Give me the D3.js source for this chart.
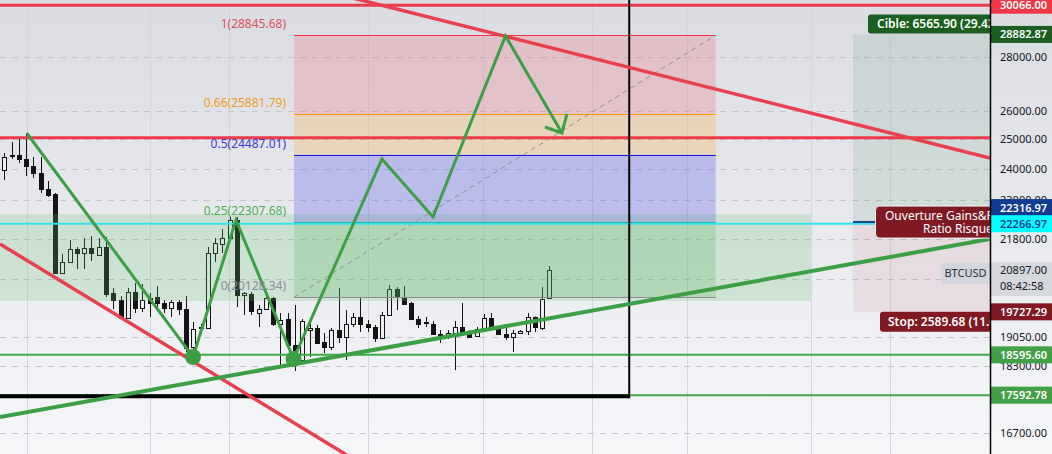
<!DOCTYPE html>
<html><head><meta charset="utf-8">
<script src="https://cdn.jsdelivr.net/npm/d3@7"></script>
<style>html,body{margin:0;padding:0;overflow:hidden;background:#fff}svg{display:block}</style>
</head><body>
<svg id="c" width="1052" height="454"></svg>
<script>
// ---------------- DATA ----------------
const opens  = [23972,24472,24472,24338,24105,23874,23354,23195,20809,21125,21506,21388,21535,21330,21565,20244,20050,19560,20272,19831,20105,20133,19968,19831,19995,19803,18796,19320,19293,21388,21654,21833,22380,20188,20216,19695,19803,20105,19400,19533,18848,18463,19240,19293,18925,18796,19240,19056,19400,19587,19400,19320,19030,19641,20355,20133,19968,19533,19453,19400,19135,19056,19161,19320,19187,19083,19267,19560,19293,19135,19056,19161,19213,19587,19293,20105];
const highs  = [24539,24913,25085,25223,24405,24405,23613,23227,21359,21773,21565,21833,21894,21833,21864,20383,20161,20383,20524,20496,20244,20440,20050,20050,20050,20161,19453,19400,21565,21833,22106,22473,22473,20272,20272,19913,20161,20133,19695,19695,19913,19533,19453,19373,19161,19293,20383,19776,19695,20133,19506,19373,19722,20468,20411,20440,19995,19614,19587,19480,19240,19240,19480,19968,19240,19320,19668,19695,19320,19320,19240,19240,19695,19600,20411,21010];
const lows   = [23645,24338,24204,23776,23710,23227,23099,20780,20780,21096,20923,20923,21154,21300,20133,19803,19540,19540,19695,19722,19587,19858,19695,19587,19641,18667,18642,19260,19267,21125,21388,21800,19858,19641,19641,19320,19790,19347,18261,18770,18186,18387,18540,18880,18642,18718,18899,18463,19320,19187,19187,18925,19000,19620,19776,19913,19506,19293,19320,19109,18899,19004,18211,19140,19040,19070,19250,19300,19120,18977,18667,19150,19109,19187,19240,20090];
const closes = [24405,24438,24338,24105,23874,23354,23163,20809,21125,21506,21388,21535,21388,21565,20216,20050,19560,20272,19831,20050,19968,19968,19831,19995,19803,18770,19267,19293,21388,21684,21833,22380,20188,20244,19749,19803,20105,19400,19506,18848,18514,19480,19293,18899,18796,19240,19056,19400,19587,19400,19320,19030,19641,20355,20133,19941,19533,19400,19420,19135,19056,19161,19320,19161,19056,19267,19560,19320,19135,19056,19161,19213,19587,19320,20077,20897];

const tickValues  = [28000, 26000, 25000, 24000, 23000, 21800, 20650, 19050, 18300, 16700];
const gridBars    = [3.08, 20.05, 30.99, 50.0, 65.9, 80.9, 94.0, 111.0, 121.9];

// fibonacci retracement
const fibLevels   = [1, 0.66, 0.5, 0.25, 0];
const fibPrices   = [28845.68, 25881.79, 24487.01, 22307.68, 20128.34];
const fibBars     = [39.87, 97.9];

// horizontal levels
const redLevels   = [30066.00, 25060];
const cyanLevel   = 22266.97;
const greenLevels = [18595.60, 17592.78];
const blackLevel  = 17592.78;
const vLineBar    = 86.0;

// zones
const zoneBars    = [-1, 111.0];
const zonePrices  = [22563, 20023];

// trend lines  [bar, price]
const redUpperLine = [[46.2, 30499], [135.64, 24371]];
const redLowerLine = [[-0.59, 21654], [48.95, 16025]];
const greenTrend   = [[-0.59, 17071], [135.64, 21803]];
const zigzag       = [[3.08,25223],[25.97,18540],[31.88,22380],[39.8,18488],[51.97,24338],[58.99,22473],[68.97,28820],[76.74,25223]];
const arrowArms    = [[74.4,25431],[77.43,25891]];
const pivotDots    = [[25.97,18540],[39.8,18488]];

// risk / reward
const rrBar      = 116.8;
const rrEntry    = 22316.97;
const rrTarget   = 28882.87;
const rrStop     = 19727.29;
const lastPrice  = 20897.00;
const symbol     = "BTCUSD";
const countdown  = "08:42:58";

const axisPrices = [30066.00, 28882.87, 22316.97, 22266.97, 19727.29, 18595.60, 17592.78];

// ---------------- DRAW ----------------
const W = 1052, H = 454, PW = 990;
const svg = d3.select("#c");
const FONT = "'Noto Sans', 'Open Sans', sans-serif";
const x = d3.scaleLinear().domain([0, 75]).range([4.3, 549.3]);
const y = d3.scaleLog().domain([30282, 16226]).range([0, H]);
const f2 = d3.format(".2f");

const defs = svg.append("defs");
const g0 = defs.append("linearGradient").attr("id","bg").attr("x1",0).attr("y1",0).attr("x2",0).attr("y2",1);
g0.append("stop").attr("offset","0%").attr("stop-color","#dadce2");
g0.append("stop").attr("offset","100%").attr("stop-color","#f6f7f9");
defs.append("clipPath").attr("id","plot").append("rect").attr("x",0).attr("y",0).attr("width",PW).attr("height",H);

svg.append("rect").attr("width",W).attr("height",H).attr("fill","url(#bg)");

const plot = svg.append("g").attr("clip-path","url(#plot)");

// grid
plot.selectAll(".vg").data(gridBars).join("line")
  .attr("x1",d=>Math.round(x(d))+0.5).attr("x2",d=>Math.round(x(d))+0.5)
  .attr("y1",0).attr("y2",H).attr("stroke","#d3d6dc").attr("stroke-width",1);
plot.selectAll(".hg").data(tickValues).join("line")
  .attr("x1",0).attr("x2",PW)
  .attr("y1",d=>Math.round(y(d))+0.5).attr("y2",d=>Math.round(y(d))+0.5)
  .attr("stroke","#c4c7ce").attr("stroke-width",1).attr("stroke-dasharray","6,6");

// candles
const idx = d3.range(opens.length);
const cg = plot.append("g");
cg.selectAll(".wick").data(idx).join("line")
  .attr("x1",i=>Math.round(x(i))+0.5).attr("x2",i=>Math.round(x(i))+0.5)
  .attr("y1",i=>y(highs[i])).attr("y2",i=>y(lows[i]))
  .attr("stroke","#131313").attr("stroke-width",1);
cg.selectAll(".body").data(idx).join("rect")
  .attr("x",i=>Math.round(x(i))-1.5).attr("width",4)
  .attr("y",i=>Math.round(y(Math.max(opens[i],closes[i])))+0.5)
  .attr("height",i=>Math.max(1, Math.round(y(Math.min(opens[i],closes[i]))-y(Math.max(opens[i],closes[i])))))
  .attr("fill",i=>closes[i]>=opens[i]?"#eeeeee":"#131313")
  .attr("stroke","#131313").attr("stroke-width",1);

// green zone rectangle
plot.append("rect").attr("x",x(zoneBars[0])).attr("width",x(zoneBars[1])-x(zoneBars[0]))
  .attr("y",y(zonePrices[0])).attr("height",y(zonePrices[1])-y(zonePrices[0]))
  .attr("fill","rgba(100,190,110,0.22)");

// fib fills
const fibFill = ["rgba(242,54,69,0.18)","rgba(255,152,0,0.2)","rgba(60,60,230,0.25)","rgba(76,175,80,0.22)"];
const fibLine = ["#f23645","#ff9800","#1a1ad0","#10a890","#8a8d96"];
const fibText = ["#e0505c","#f29a1c","#3a3ad8","#4caf50","#8a8d96"];
const fx0 = x(fibBars[0]), fx1 = x(fibBars[1]);
plot.selectAll(".ff").data(d3.range(4)).join("rect")
  .attr("x",fx0).attr("width",fx1-fx0)
  .attr("y",i=>y(fibPrices[i])).attr("height",i=>y(fibPrices[i+1])-y(fibPrices[i]))
  .attr("fill",i=>fibFill[i]);
plot.selectAll(".fl").data(d3.range(5)).join("line")
  .attr("x1",fx0).attr("x2",fx1)
  .attr("y1",i=>Math.round(y(fibPrices[i]))+0.5).attr("y2",i=>Math.round(y(fibPrices[i]))+0.5)
  .attr("stroke",i=>fibLine[i]).attr("stroke-width",1);
plot.append("line").attr("x1",fx0).attr("y1",y(fibPrices[4])).attr("x2",fx1).attr("y2",y(fibPrices[0]))
  .attr("stroke","#8f929b").attr("stroke-width",1).attr("stroke-dasharray","5,4");

// risk/reward boxes
plot.append("rect").attr("x",x(rrBar)).attr("width",PW-x(rrBar))
  .attr("y",y(rrTarget)).attr("height",y(rrEntry)-y(rrTarget)).attr("fill","rgba(76,140,100,0.13)");
plot.append("rect").attr("x",x(rrBar)).attr("width",PW-x(rrBar))
  .attr("y",y(rrEntry)).attr("height",y(rrStop)-y(rrEntry)).attr("fill","rgba(200,80,100,0.10)");

// horizontal lines
plot.selectAll(".rl").data(redLevels).join("line")
  .attr("x1",0).attr("x2",PW).attr("y1",d=>y(d)).attr("y2",d=>y(d))
  .attr("stroke","#ec3a48").attr("stroke-width",3);
plot.append("line").attr("x1",0).attr("x2",PW).attr("y1",y(cyanLevel)).attr("y2",y(cyanLevel))
  .attr("stroke","#30e4ea").attr("stroke-width",2);
plot.selectAll(".gl").data(greenLevels).join("line")
  .attr("x1",0).attr("x2",PW).attr("y1",d=>y(d)).attr("y2",d=>y(d))
  .attr("stroke","#3faa48").attr("stroke-width",2);
plot.append("line").attr("x1",0).attr("x2",x(vLineBar)).attr("y1",y(blackLevel)+1).attr("y2",y(blackLevel)+1)
  .attr("stroke","#000").attr("stroke-width",4);
plot.append("line").attr("x1",x(vLineBar)).attr("x2",x(vLineBar)).attr("y1",0).attr("y2",y(blackLevel)+3)
  .attr("stroke","#000").attr("stroke-width",2);

// trend lines
const ln = d3.line().x(d=>x(d[0])).y(d=>y(d[1]));
plot.append("path").attr("d",ln(redUpperLine)).attr("fill","none").attr("stroke","#e8404d").attr("stroke-width",3.5);
plot.append("path").attr("d",ln(redLowerLine)).attr("fill","none").attr("stroke","#e8404d").attr("stroke-width",3.5);
plot.append("path").attr("d",ln(greenTrend)).attr("fill","none").attr("stroke","#3d9f45").attr("stroke-width",4);

// zigzag
plot.append("path").attr("d",ln(zigzag)).attr("fill","none").attr("stroke","#3d9f45").attr("stroke-width",3).attr("stroke-linejoin","miter");
const tip = zigzag[zigzag.length-1];
plot.append("path").attr("d",ln([arrowArms[0],tip,arrowArms[1]])).attr("fill","none").attr("stroke","#3d9f45").attr("stroke-width",3);
plot.selectAll(".dot").data(pivotDots).join("circle")
  .attr("cx",d=>x(d[0])).attr("cy",d=>y(d[1])).attr("r",8).attr("fill","#3d9f45");

// fib labels
plot.selectAll(".ft").data(d3.range(5)).join("text")
  .attr("x",fx0-8).attr("y",i=>y(fibPrices[i])-7)
  .attr("text-anchor","end").attr("font-family",FONT).attr("font-size",12)
  .attr("fill",i=>fibText[i])
  .text(i=>`${fibLevels[i]}(${f2(fibPrices[i])})`);

// entry line
plot.append("line").attr("x1",x(rrBar)).attr("x2",x(rrBar)+40).attr("y1",y(rrEntry)).attr("y2",y(rrEntry))
  .attr("stroke","#1d3f8f").attr("stroke-width",2);

// Cible label
const cY = y(rrTarget);
plot.append("rect").attr("x",868).attr("y",cY-20).attr("width",160).attr("height",19).attr("rx",3).attr("fill","#1b5e20");
plot.append("text").attr("x",877).attr("y",cY-6.5).attr("font-family",FONT).attr("font-size",12).attr("font-weight",600)
  .attr("fill","#fff").text(`Cible: ${f2(rrTarget-rrEntry)} (${f2((rrTarget-rrEntry)/rrEntry*100)}%) ${f2(rrTarget-rrEntry)}`);

// Ouverture label
const eY = y(rrEntry);
plot.append("rect").attr("x",875.5).attr("y",eY-16).attr("width",200).attr("height",32).attr("rx",4)
  .attr("fill","#7f1a22").attr("stroke","#f2f2f2").attr("stroke-width",1);
plot.append("text").attr("x",885).attr("y",eY-2).attr("font-family",FONT).attr("font-size",12).attr("fill","#fff")
  .text("Ouverture Gains&Pertes: 0 (0.00%)");
plot.append("text").attr("x",923).attr("y",eY+11).attr("font-family",FONT).attr("font-size",12).attr("fill","#fff")
  .text("Ratio Risque/Rendement: 2.54");

// Stop label
const sY = y(rrStop);
plot.append("rect").attr("x",880).attr("y",sY).attr("width",160).attr("height",20).attr("rx",3).attr("fill","#801922");
plot.append("text").attr("x",888).attr("y",sY+14.5).attr("font-family",FONT).attr("font-size",12).attr("font-weight",600)
  .attr("fill","#fff").text(`Stop: ${f2(rrEntry-rrStop)} (${f2((rrEntry-rrStop)/rrEntry*100)}%) ${f2(rrEntry-rrStop)}`);

// symbol label
const lY = y(lastPrice);
plot.append("rect").attr("x",941).attr("y",lY-7).attr("width",49).attr("height",21).attr("fill","#d3d6dd");
plot.append("text").attr("x",965.5).attr("y",lY+7.5).attr("text-anchor","middle").attr("font-family",FONT).attr("font-size",11)
  .attr("fill","#2a2e39").text(symbol);

// ---------------- PRICE AXIS ----------------
const ax = svg.append("g");
// tick labels (a tick fully hidden behind the last-price label is not labelled)
ax.selectAll(".tl").data(tickValues.filter(d => Math.abs(y(d) - (lY + 9)) > 17)).join("text")
  .attr("x",1000).attr("y",d=>y(d)+4).attr("font-family",FONT).attr("font-size",11)
  .attr("fill","#131722").text(d=>f2(d));

const axisFill = ["#f23645","#1b5e20","#0f3b93","#00ffff","#801922","#43a047","#43a047"];
const axisInk  = ["#fff","#fff","#fff","#0f3b93","#fff","#fff","#fff"];
const axisDy   = [0,0,-14.5,0,0,0,0];
const am = ax.selectAll(".am").data(d3.range(axisPrices.length)).join("g")
  .attr("transform",i=>`translate(991,${y(axisPrices[i])+axisDy[i]})`);
am.append("rect").attr("x",0).attr("y",-8.5).attr("width",61).attr("height",17).attr("fill",i=>axisFill[i]);
am.append("text").attr("x",9).attr("y",4).attr("font-family",FONT).attr("font-size",11).attr("font-weight",600)
  .attr("fill",i=>axisInk[i]).text(i=>f2(axisPrices[i]));

// last price label
const lp = ax.append("g").attr("transform",`translate(991,${lY})`);
lp.append("rect").attr("x",0).attr("y",-8).attr("width",61).attr("height",34).attr("fill","#d6d8de");
lp.append("text").attr("x",9).attr("y",4).attr("font-family",FONT).attr("font-size",11).attr("fill","#131722").text(f2(lastPrice));
lp.append("text").attr("x",9).attr("y",20).attr("font-family",FONT).attr("font-size",11).attr("fill","#131722").text(countdown);

// axis border
svg.append("line").attr("x1",PW+0.5).attr("x2",PW+0.5).attr("y1",0).attr("y2",H).attr("stroke","#000").attr("stroke-width",1.5);
</script>
</body></html>
